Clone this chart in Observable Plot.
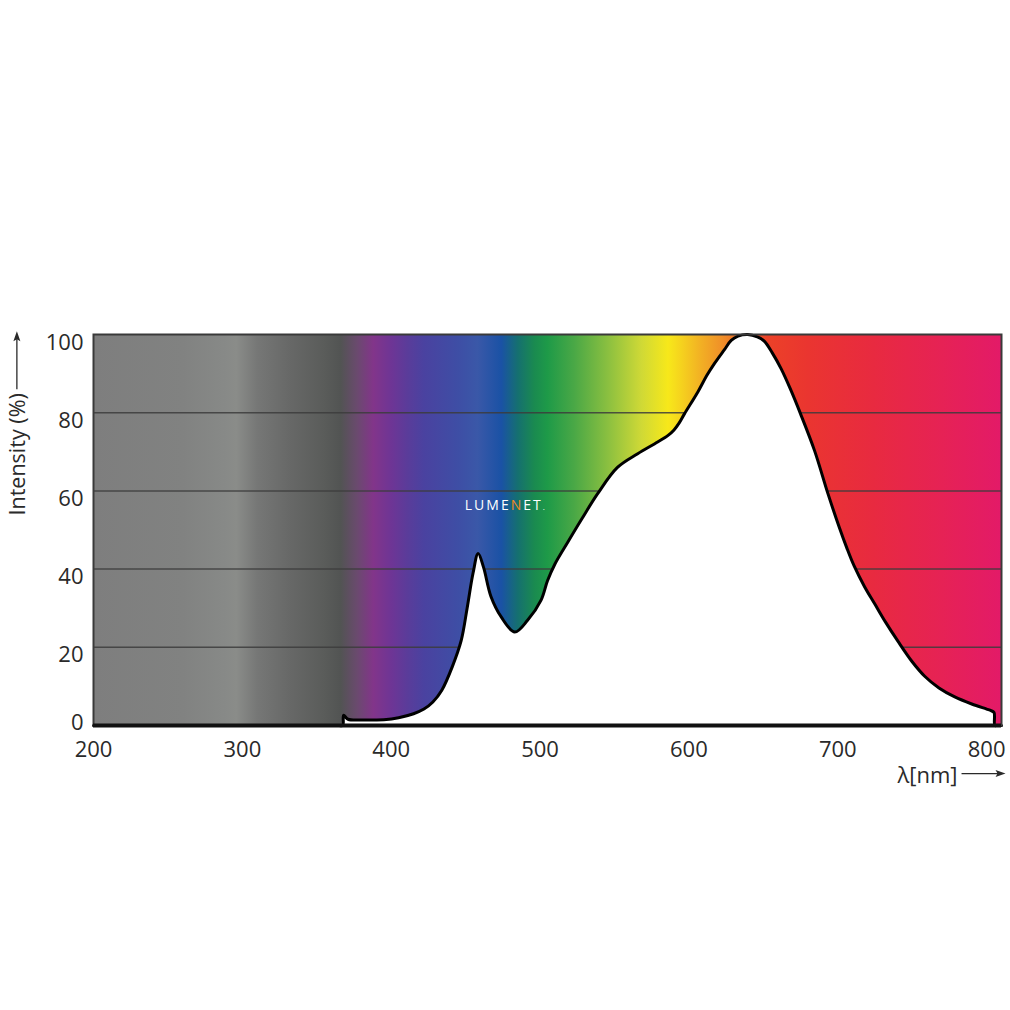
<!DOCTYPE html>
<html>
<head>
<meta charset="utf-8">
<script src="https://cdn.jsdelivr.net/npm/d3@7"></script>
<script src="https://cdn.jsdelivr.net/npm/@observablehq/plot@0.6"></script>
<style>
  html, body { margin: 0; padding: 0; background: #ffffff; }
  #chart { width: 1010px; height: 1010px; }
</style>
</head>
<body>
<div id="chart"></div>
<script>
// Spectral power distribution
const wavelengths = [200, 250, 300, 340, 360, 365, 367.5, 368, 371, 380, 395, 405, 415, 422, 428, 434, 441, 447, 451, 455, 458.4, 462, 467, 474, 483, 491.6, 500.6, 505, 510, 518.5, 528, 538.7, 552, 565.6, 579, 586, 590, 593.5, 597, 606, 612, 617, 624, 628.4, 633, 639.5, 646, 650.6, 656, 662, 668, 675, 684.4, 693.4, 701, 706, 711, 718, 725, 732, 740.5, 750, 758.4, 768, 778.6, 790, 800, 803, 805, 805.5, 807, 810];
const intensity   = [0, 0, 0, 0, 0, 0, 0, 2.6, 1.6, 1.4, 1.5, 2, 3, 4.2, 6, 9, 15, 21.7, 30, 39, 44, 40.5, 33, 27.7, 23.9, 26.9, 32, 37, 41.3, 46.8, 52.8, 59.3, 66, 69.5, 72.5, 74.2, 75.6, 77.4, 79.7, 85.3, 89.5, 92.5, 96.2, 98.5, 99.6, 100, 99.4, 98.3, 95.3, 91.2, 86.2, 79.7, 70.3, 59.3, 50.7, 45.5, 40.8, 35.5, 31, 26.5, 21.5, 16.3, 12.6, 9.6, 7.3, 5.5, 4.2, 3.8, 3.3, 0, 0, 0];

// Background spectrum colour key (wavelength stops)
const spectrumNm    = [200, 260, 287, 296, 310, 332, 355, 366, 377, 388, 400, 411, 422, 445, 458, 474, 485, 496, 505, 523, 546, 568, 586, 595, 608, 622, 640, 653, 680, 724, 770, 810];
const spectrumColor = ["#7e7e7e", "#818281", "#878987", "#8a8c89", "#767776", "#676867", "#5a5c5a", "#525453", "#6a4a6e", "#82358a", "#6e3595", "#5a3c9a", "#4a42a0", "#3e4ea5", "#3a58a8", "#1a52a5", "#157070", "#1a8a50", "#1e9a48", "#4aa846", "#8cc040", "#cfd936", "#f7e81a", "#f5d21e", "#f2b024", "#f09028", "#ee5c2a", "#ec4128", "#ea3530", "#e82a40", "#e62255", "#e31a68"];

const xTicks = [200, 300, 400, 500, 600, 700, 800];
const yTicks = [0, 20, 40, 60, 80, 100];

const watermark = [{nm: 477, val: 56.3, label: "LUMENET."}];

// build tables
const curve = wavelengths.map((w, i) => ({nm: w, val: intensity[i]}));
const domainX = [200, 810];

// gradient definition mark (colour stops from the spectrum key)
function spectrumDefs() {
  const defs = d3.create("svg:defs");
  const g = defs.append("linearGradient").attr("id", "spec").attr("x1", 0).attr("x2", 1).attr("y1", 0).attr("y2", 0);
  spectrumNm.forEach((nm, i) => {
    g.append("stop")
      .attr("offset", (nm - domainX[0]) / (domainX[1] - domainX[0]))
      .attr("stop-color", spectrumColor[i]);
  });
  return defs.node();
}

const chart = Plot.plot({
  width: 1010,
  height: 1010,
  marginTop: 334,
  marginBottom: 285,
  marginLeft: 93,
  marginRight: 9,
  style: {background: "#ffffff", fontFamily: "'Open Sans', sans-serif", color: "#2a2a2a"},
  x: {domain: domainX, label: null},
  y: {domain: [0, 100], label: null},
  marks: [
    spectrumDefs,
    Plot.frame({fill: "url(#spec)", stroke: "none"}),
    Plot.ruleY(yTicks.filter(d => d > 0 && d < 100), {stroke: "#3c3c3c", strokeWidth: 1.5, strokeOpacity: 0.85}),
    Plot.areaY(curve, {x: "nm", y: "val", fill: "white", curve: "catmull-rom"}),
    Plot.lineY(curve, {x: "nm", y: "val", stroke: "#000", strokeWidth: 3, curve: "catmull-rom"}),
    Plot.frame({stroke: "#3a3a3a", strokeWidth: 2}),
    Plot.ruleY([0], {stroke: "#111", strokeWidth: 4}),
    Plot.axisX({ticks: xTicks, tickSize: 0, tickPadding: 16, fontSize: 22, label: null, fill: "#2a2a2a"}),
    Plot.axisY({ticks: yTicks.filter(d => d > 0), tickSize: 0, tickPadding: 10, fontSize: 22, label: null, dy: 8, fill: "#2a2a2a"}),
    Plot.axisY({ticks: [yTicks[0]], tickSize: 0, tickPadding: 10, fontSize: 22, label: null, dy: -3, fill: "#2a2a2a"}),
    Plot.text(["Intensity (%)"], {frameAnchor: "top-left", rotate: -90, textAnchor: "start", lineAnchor: "middle", dx: -75, dy: 181, fontSize: 21.5, fill: "#2a2a2a", className: "ylab"}),
    Plot.text(["\u03BB[nm]"], {frameAnchor: "bottom-right", textAnchor: "start", lineAnchor: "middle", dx: -104, dy: 50, fontSize: 22, fill: "#2a2a2a", className: "xlab"}),
    Plot.text(watermark, {x: "nm", y: "val", text: "label", fill: "white", fontSize: 14, className: "wm"})
  ]
});

document.getElementById("chart").appendChild(chart);

// long arrows after the axis labels
function addArrow(sel, endPad) {
  const t = chart.querySelector(sel + " text");
  if (!t) return;
  const bb = t.getBBox();
  const ns = "http://www.w3.org/2000/svg";
  const g = document.createElementNS(ns, "g");
  const tr = t.getAttribute("transform");
  if (tr) g.setAttribute("transform", tr);
  const x0 = bb.x + bb.width + 4;
  const x1 = bb.x + bb.width + endPad;
  const y = bb.y + bb.height * 0.5;
  const line = document.createElementNS(ns, "line");
  line.setAttribute("x1", x0); line.setAttribute("x2", x1 - 6);
  line.setAttribute("y1", y); line.setAttribute("y2", y);
  line.setAttribute("stroke", "#2a2a2a"); line.setAttribute("stroke-width", 1.3);
  const head = document.createElementNS(ns, "path");
  head.setAttribute("d", `M${x1},${y} L${x1 - 10},${y - 3.5} L${x1 - 8},${y} L${x1 - 10},${y + 3.5} Z`);
  head.setAttribute("fill", "#2a2a2a");
  g.appendChild(line); g.appendChild(head);
  t.parentNode.appendChild(g);
}
addArrow(".ylab", 62);
addArrow(".xlab", 48);

// style the watermark (orange N, letter spacing)
const wm = chart.querySelector(".wm text");
if (wm) {
  wm.setAttribute("letter-spacing", "2");
  wm.innerHTML = 'LUME<tspan fill="#f08a24">N</tspan>ET<tspan font-size="8">.</tspan>';
}
</script>
</body>
</html>
